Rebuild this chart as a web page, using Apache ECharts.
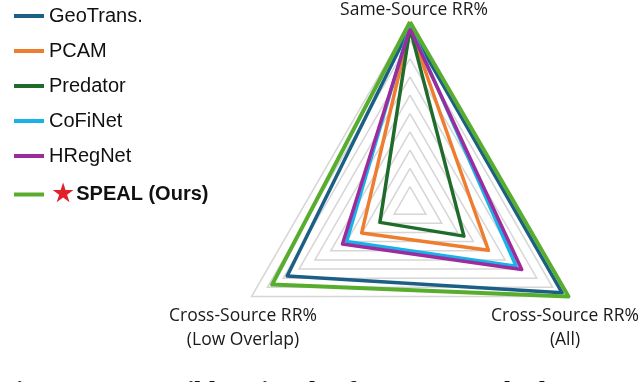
<!DOCTYPE html>
<html>
<head>
<meta charset="utf-8">
<script src="https://cdn.jsdelivr.net/npm/echarts@6/dist/echarts.min.js"></script>
<style>
html,body{margin:0;padding:0;background:#fff;}
#c{width:640px;height:382px;}
</style>
</head>
<body>
<div id="c"></div>
<script>
// Axes (ECharts radar order: top, bottom-left, bottom-right), normalised 0-100
var indicators = ['Same-Source RR%', 'Cross-Source RR%\n(Low Overlap)', 'Cross-Source RR%\n(All)'];
var methods = ['GeoTrans.', 'PCAM', 'Predator', 'CoFiNet', 'HRegNet', 'SPEAL (Ours)'];
var geoTrans = [97, 77.5, 96];
var pcam     = [97, 30.5, 49.5];
var predator = [96.5, 19, 34];
var cofinet  = [98, 40, 67];
var hregnet  = [96.5, 42.6, 70.5];
var speal    = [100, 87, 100];
var colors = ['#1c5f86', '#ee7d30', '#1f6b2c', '#19b2e8', '#9c2c9d', '#58ad2f'];
var caption = 'Figure 1: Impossible Triangle of Current Methods. In';

var values = [geoTrans, pcam, predator, cofinet, hregnet, speal];
var chart = echarts.init(document.getElementById('c'), null, {renderer: 'canvas'});

var series = methods.map(function (m, i) {
  return {
    type: 'radar',
    name: m,
    symbol: 'none',
    z: 2 + i,
    lineStyle: {color: colors[i], width: i === 5 ? 4 : 3.5},
    itemStyle: {color: colors[i]},
    data: [{name: m, value: values[i]}]
  };
});

var labelStyle = {fontFamily: 'Open Sans', fontSize: 17.5, fill: '#1a1a1a', align: 'center', verticalAlign: 'middle', lineHeight: 24};

chart.setOption({
  animation: false,
  backgroundColor: '#ffffff',
  color: colors,
  legend: {
    orient: 'vertical',
    left: 14,
    top: 6,
    padding: 0,
    itemWidth: 30,
    itemHeight: 4,
    itemGap: 15,
    icon: 'rect',
    data: methods,
    textStyle: {fontFamily: 'Liberation Sans', fontSize: 20, color: '#111', lineHeight: 20, height: 20,
      rich: {
        s: {fontFamily: 'DejaVu Sans', fontSize: 27, color: '#e0202a', lineHeight: 20, height: 20, verticalAlign: 'middle', padding: [0, 0, 0, 2]},
        b: {fontFamily: 'Liberation Sans', fontSize: 20, fontWeight: 'bold', color: '#111', lineHeight: 20, height: 20, verticalAlign: 'middle', padding: [0, 0, 0, 1]}
      }
    },
    formatter: function (n) {
      return n === 'SPEAL (Ours)' ? '{s|★}{b|' + n + '}' : n;
    }
  },
  radar: {
    center: [410, 205],
    radius: 183,
    startAngle: 90,
    shape: 'polygon',
    splitNumber: 10,
    indicator: indicators.map(function (n) { return {name: n, min: 0, max: 100}; }),
    axisName: {show: false},
    axisLine: {show: false},
    axisTick: {show: false},
    axisLabel: {show: false},
    splitArea: {show: false},
    splitLine: {lineStyle: {color: '#d6d6d6', width: 1.5}}
  },
  graphic: [
    {type: 'text', x: 414, y: 10, style: Object.assign({}, labelStyle, {text: indicators[0]})},
    {type: 'text', x: 243, y: 328, style: Object.assign({}, labelStyle, {text: indicators[1]})},
    {type: 'text', x: 565, y: 328, style: Object.assign({}, labelStyle, {text: indicators[2]})},
    {type: 'text', x: 0, y: 379, style: {text: caption, fontFamily: 'Liberation Serif', fontWeight: 'bold', fontSize: 26, fill: '#111', align: 'left', verticalAlign: 'top'}}
  ],
  series: series
});
</script>
</body>
</html>
